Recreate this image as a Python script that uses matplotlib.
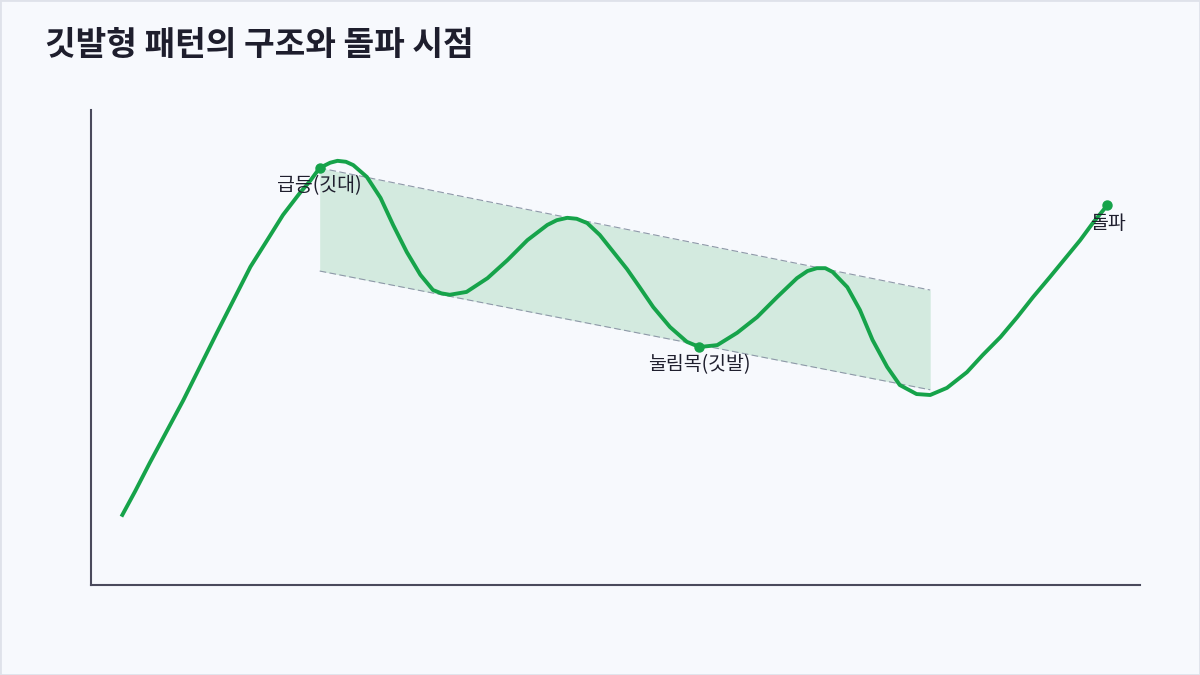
import matplotlib
matplotlib.use("Agg")
import matplotlib.pyplot as plt
from matplotlib.patches import Rectangle

plt.rcParams['font.family'] = ['Noto Sans CJK KR', 'DejaVu Sans']

# price path (time 0-100, price 0-100)
time = [2.9, 4.2, 5.6, 8.8, 12.0, 15.2, 16.8, 18.3, 19.9, 20.9, 21.8, 22.8, 23.5,
        24.3, 25.0, 26.3, 27.6, 28.8, 30.1, 31.4, 32.6, 33.4, 34.2, 35.8, 37.8, 39.7,
        41.6, 43.5, 44.4, 45.4, 46.3, 47.3, 48.5, 49.8, 51.1, 52.3, 53.6, 55.2,
        56.8, 58.0, 59.7, 61.6, 63.5, 65.4, 67.3, 68.3, 69.2, 70.0, 70.7, 72.1,
        73.3, 74.5, 75.9, 77.1, 78.7, 80.0, 81.6, 83.5, 85.0, 86.7, 88.3, 89.8,
        91.4, 93.0, 94.3, 95.5, 96.9]
price = [14.4, 19.7, 25.7, 38.9, 53.1, 67.0, 72.6, 77.9, 82.5, 85.1, 87.8, 88.9, 89.3,
         89.1, 88.4, 85.9, 81.5, 75.8, 70.1, 65.3, 62.1, 61.4, 61.1, 61.7, 64.6, 68.4,
         72.6, 75.8, 76.8, 77.3, 77.1, 76.2, 73.7, 70.1, 66.5, 62.7, 58.5, 54.3,
         51.2, 50.1, 50.5, 53.1, 56.4, 60.6, 64.6, 66.1, 66.7, 66.7, 65.9, 62.7,
         57.9, 51.6, 45.9, 42.1, 40.2, 40.0, 41.5, 44.8, 48.4, 52.2, 56.4, 60.6,
         64.8, 69.1, 72.6, 76.2, 80.0]

# flag channel
channel_x = [21.8, 80.0]
channel_top = [87.8, 62.1]
channel_bottom = [66.1, 41.1]

# key points
key_x = [21.8, 58.0, 96.9]
key_y = [87.8, 50.1, 80.0]
key_labels = ['급등(깃대)', '눌림목(깃발)', '돌파']

green = '#16a34a'
bg = '#f7f9fd'

fig = plt.figure(figsize=(12, 6.75), dpi=100, facecolor=bg)
fig.patches.append(Rectangle((0, 0), 1, 1, transform=fig.transFigure,
                             fill=False, edgecolor='#dfe2ea', linewidth=2))
ax = fig.add_axes([91 / 1200, 90 / 675, 1049 / 1200, 475 / 675])
ax.set_facecolor(bg)

ax.fill_between(channel_x, channel_bottom, channel_top, color='#cfe9dc', alpha=0.9,
                linewidth=0, zorder=1)
ax.plot(channel_x, channel_top, color='#8e98a8', linestyle=(0, (6, 3)), linewidth=0.8, zorder=2)
ax.plot(channel_x, channel_bottom, color='#8e98a8', linestyle=(0, (6, 3)), linewidth=0.8, zorder=2)

ax.plot(time, price, color=green, linewidth=2.8, solid_capstyle='butt',
        solid_joinstyle='round', zorder=3)
ax.plot(key_x, key_y, 'o', color=green, markersize=6.5, zorder=4)
for x, y, lab in zip(key_x, key_y, key_labels):
    ax.annotate(lab, (x, y), xytext=(0, -13), textcoords='offset points',
                ha='center', va='center', fontsize=14, color='#1f1f2e', zorder=5)

ax.set_xlim(0, 100)
ax.set_ylim(0, 100)
ax.set_xticks([])
ax.set_yticks([])
for side in ['top', 'right']:
    ax.spines[side].set_visible(False)
for side in ['left', 'bottom']:
    ax.spines[side].set_color('#4a4a5c')
    ax.spines[side].set_linewidth(1.5)

fig.text(45 / 1200, 1 - 45 / 675, '깃발형 패턴의 구조와 돌파 시점', fontsize=24,
         fontweight='bold', color='#1e1e2d', ha='left', va='center')

fig.savefig('out.png', dpi=100, facecolor=bg)
